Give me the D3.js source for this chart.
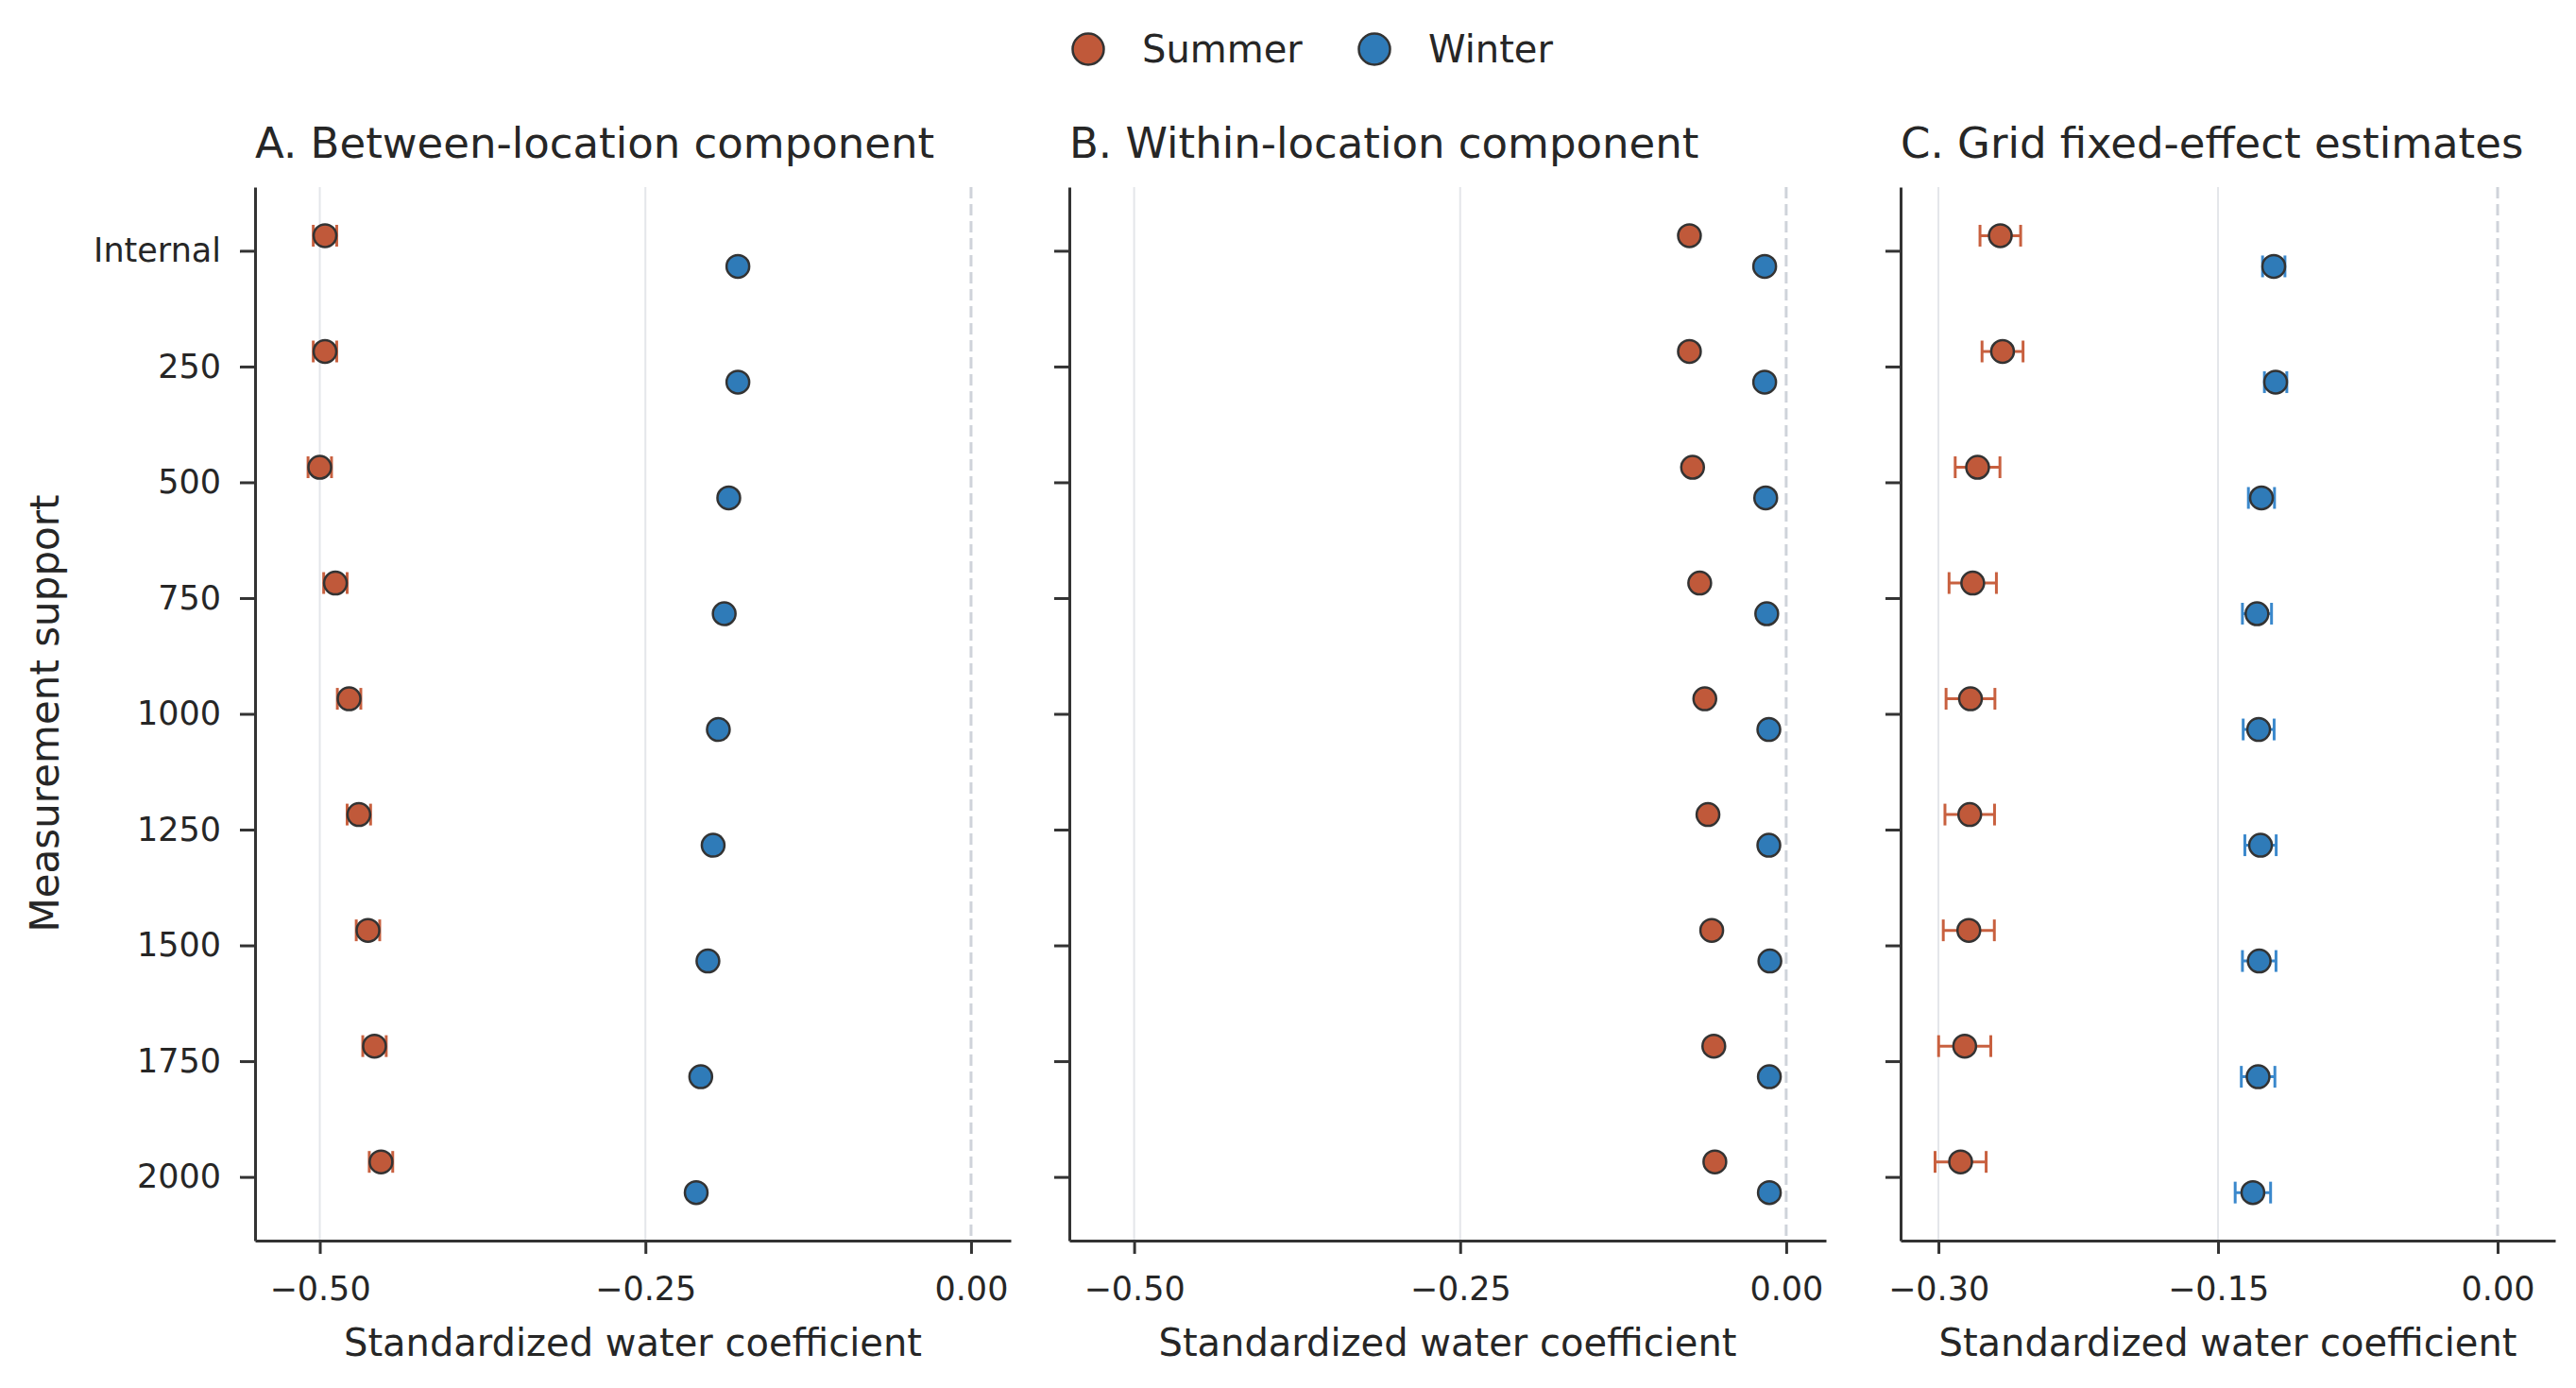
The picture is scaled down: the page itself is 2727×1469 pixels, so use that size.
<!DOCTYPE html>
<html>
<head>
<meta charset="utf-8">
<script src="https://cdn.jsdelivr.net/npm/d3@7/dist/d3.min.js"></script>
<style>
    body { margin: 0; background: #ffffff; }
    svg text { font-family: "DejaVu Sans", sans-serif; fill: #262626; }
</style>
</head>
<body>
<div class="chart"></div>
<script>

// measurement supports (y categories)
const supports = ["Internal", "250", "500", "750", "1000", "1250", "1500", "1750", "2000"];
const seasons = ["Summer", "Winter"];

// A. between-location component
const betweenSummer = [-0.496, -0.496, -0.500, -0.488, -0.4775, -0.470, -0.463, -0.458, -0.453];
const betweenWinter = [-0.179, -0.179, -0.186, -0.1895, -0.194, -0.198, -0.202, -0.2075, -0.211];
const betweenSummerErr = [0.009, 0.009, 0.009, 0.009, 0.009, 0.009, 0.009, 0.009, 0.009];
const betweenWinterErr = [0.003, 0.003, 0.003, 0.003, 0.003, 0.003, 0.003, 0.003, 0.003];

// B. within-location component
const withinSummer = [-0.0742, -0.0742, -0.0718, -0.0663, -0.0624, -0.060, -0.0571, -0.0555, -0.0547];
const withinWinter = [-0.0165, -0.0165, -0.0157, -0.0149, -0.0133, -0.0133, -0.0125, -0.0129, -0.0129];
const withinSummerErr = [0.002, 0.002, 0.002, 0.002, 0.002, 0.002, 0.002, 0.002, 0.002];
const withinWinterErr = [0.001, 0.001, 0.001, 0.001, 0.001, 0.001, 0.001, 0.001, 0.001];

// C. grid fixed-effect estimates
const gridSummer = [-0.2668, -0.2656, -0.279, -0.2816, -0.2828, -0.2832, -0.2837, -0.2859, -0.2881];
const gridWinter = [-0.1201, -0.1191, -0.1267, -0.1291, -0.1282, -0.1272, -0.1279, -0.1285, -0.1313];
const gridSummerErr = [0.0109, 0.011, 0.012, 0.0127, 0.0131, 0.0133, 0.0137, 0.014, 0.0137];
const gridWinterErr = [0.006, 0.006, 0.007, 0.0078, 0.0083, 0.0084, 0.009, 0.009, 0.0095];

// x ticks
const ticksAB = [-0.5, -0.25, 0];
const ticksC = [-0.3, -0.15, 0];

const seasonFill = {Summer: "#c0593a", Winter: "#2f7bb8"};
const seasonErr = {Summer: "#c8603f", Winter: "#3a88cc"};


class DotPanel {

    constructor(svg, opts) {
        this.svg = svg;
        this.opts = opts;
        this.displayData = [];

        this.initVis();
    }

    initVis() {
        let vis = this;
        let o = vis.opts;

        vis.g = vis.svg.append("g");

        vis.x = d3.scaleLinear()
            .domain(o.domain)
            .range([o.left, o.right]);

        vis.y = d3.scalePoint()
            .domain(supports)
            .range([198, 1313])
            .padding(0.55);

        vis.wrangleData();
    }

    wrangleData() {
        let vis = this;
        let o = vis.opts;

        vis.displayData = [];
        supports.forEach(function (s, i) {
            vis.displayData.push({support: s, season: "Summer", value: o.summer[i], err: o.summerErr[i]});
            vis.displayData.push({support: s, season: "Winter", value: o.winter[i], err: o.winterErr[i]});
        });

        vis.updateVis();
    }

    updateVis() {
        let vis = this;
        let o = vis.opts;
        let step = vis.y.step();
        let dodge = {Summer: -0.13 * step, Winter: 0.135 * step};
        let yPos = d => vis.y(d.support) + dodge[d.season];

        // grid lines
        vis.g.selectAll(".grid")
            .data(o.ticks.filter(t => t !== 0))
            .enter()
            .append("line")
            .attr("x1", d => vis.x(d))
            .attr("x2", d => vis.x(d))
            .attr("y1", 198)
            .attr("y2", 1313)
            .style("stroke", "#e4e6ea")
            .style("stroke-width", 2);

        // zero reference
        vis.g.append("line")
            .attr("x1", vis.x(0))
            .attr("x2", vis.x(0))
            .attr("y1", 198)
            .attr("y2", 1313)
            .style("stroke", "#cfd3da")
            .style("stroke-width", 3)
            .style("stroke-dasharray", "12,6");

        // error bars
        let bars = vis.g.selectAll(".err")
            .data(vis.displayData)
            .enter()
            .append("g")
            .attr("class", "err")
            .style("stroke", d => seasonErr[d.season])
            .style("stroke-width", 3);

        bars.append("line")
            .attr("x1", d => vis.x(d.value - d.err))
            .attr("x2", d => vis.x(d.value + d.err))
            .attr("y1", yPos)
            .attr("y2", yPos);

        bars.append("line")
            .attr("x1", d => vis.x(d.value - d.err))
            .attr("x2", d => vis.x(d.value - d.err))
            .attr("y1", d => yPos(d) - 11.5)
            .attr("y2", d => yPos(d) + 11.5);

        bars.append("line")
            .attr("x1", d => vis.x(d.value + d.err))
            .attr("x2", d => vis.x(d.value + d.err))
            .attr("y1", d => yPos(d) - 11.5)
            .attr("y2", d => yPos(d) + 11.5);

        // dots
        vis.g.selectAll(".dot")
            .data(vis.displayData)
            .enter()
            .append("circle")
            .attr("class", "dot")
            .attr("cx", d => vis.x(d.value))
            .attr("cy", yPos)
            .attr("r", 12)
            .style("fill", d => seasonFill[d.season])
            .style("stroke", "#333333")
            .style("stroke-width", 2.5);

        // x axis
        let xAxis = vis.g.append("g")
            .attr("transform", "translate(0,1313)")
            .call(d3.axisBottom(vis.x)
                .tickValues(o.ticks)
                .tickFormat(d3.format(".2f"))
                .tickSize(14)
                .tickSizeOuter(0)
                .tickPadding(24));

        // y axis
        let yAxis = vis.g.append("g")
            .attr("transform", "translate(" + o.left + ",0)")
            .call(d3.axisLeft(vis.y)
                .tickSize(16)
                .tickSizeOuter(0)
                .tickPadding(20)
                .tickFormat(o.showLabels ? (d => d) : ""));

        [xAxis, yAxis].forEach(function (a) {
            a.select(".domain").style("stroke", "#333333").style("stroke-width", 3);
            a.selectAll(".tick line").style("stroke", "#333333").style("stroke-width", 3);
            a.selectAll(".tick text")
                .style("font-size", "35px")
                .style("font-family", "'DejaVu Sans', sans-serif")
                .attr("fill", "#262626");
        });

        // axis title
        vis.g.append("text")
            .attr("x", (o.left + o.right) / 2)
            .attr("y", 1435)
            .attr("text-anchor", "middle")
            .style("font-size", "40px")
            .text("Standardized water coefficient");

        // panel title
        vis.g.append("text")
            .attr("x", o.left)
            .attr("y", 167)
            .style("font-size", "45px")
            .text(o.title);
    }
}


let svg = d3.select(".chart").append("svg")
    .attr("width", 2727)
    .attr("height", 1469)
    .style("background", "#ffffff");

new DotPanel(svg, {
    title: "A. Between-location component",
    left: 270, right: 1070, domain: [-0.5497, 0.0305], ticks: ticksAB,
    summer: betweenSummer, winter: betweenWinter,
    summerErr: betweenSummerErr, winterErr: betweenWinterErr,
    showLabels: true
});

new DotPanel(svg, {
    title: "B. Within-location component",
    left: 1132, right: 1933, domain: [-0.5497, 0.0305], ticks: ticksAB,
    summer: withinSummer, winter: withinWinter,
    summerErr: withinSummerErr, winterErr: withinWinterErr,
    showLabels: false
});

new DotPanel(svg, {
    title: "C. Grid fixed-effect estimates",
    left: 2012, right: 2705, domain: [-0.3203, 0.0309], ticks: ticksC,
    summer: gridSummer, winter: gridWinter,
    summerErr: gridSummerErr, winterErr: gridWinterErr,
    showLabels: false
});

// y axis label
svg.append("text")
    .attr("transform", "translate(62,755) rotate(-90)")
    .attr("text-anchor", "middle")
    .style("font-size", "42px")
    .text("Measurement support");

// legend
let legend = svg.append("g");
let legendX = d3.scaleOrdinal().domain(seasons).range([1152, 1455]);

legend.selectAll("circle")
    .data(seasons)
    .enter()
    .append("circle")
    .attr("cx", d => legendX(d))
    .attr("cy", 52)
    .attr("r", 16.5)
    .style("fill", d => seasonFill[d])
    .style("stroke", "#333333")
    .style("stroke-width", 2.5);

legend.selectAll("text")
    .data(seasons)
    .enter()
    .append("text")
    .attr("x", d => legendX(d) + 57)
    .attr("y", 52)
    .attr("dy", "0.35em")
    .style("font-size", "40px")
    .text(d => d);

</script>
</body>
</html>
